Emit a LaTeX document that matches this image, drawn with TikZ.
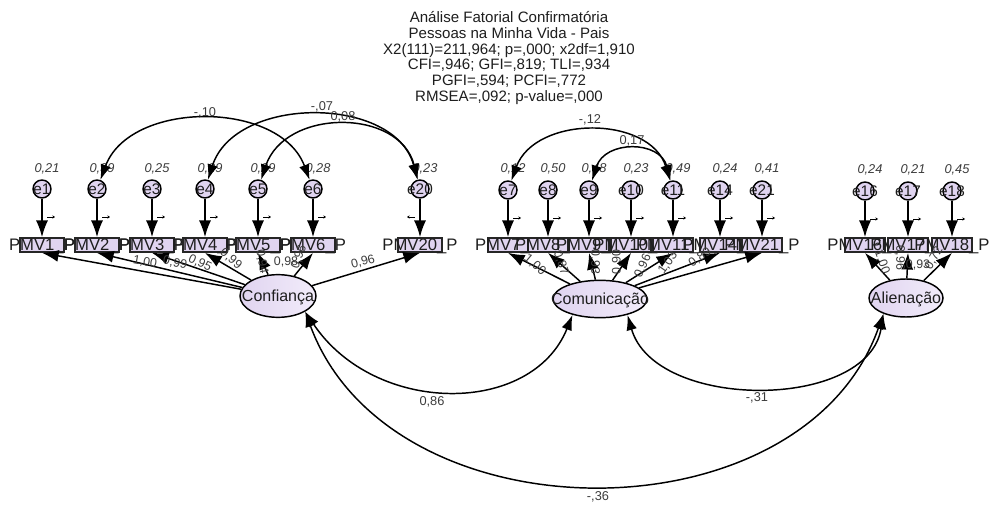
\documentclass[tikz,border=0pt]{standalone}
\usepackage{fontspec}
\setmainfont{Liberation Sans}
\usetikzlibrary{arrows.meta,shapes.geometric,calc}
\definecolor{lavA}{RGB}{224,212,240}
\definecolor{lavB}{RGB}{242,236,250}
\definecolor{txt}{RGB}{30,30,30}
\definecolor{lbl}{RGB}{60,60,60}
\newcommand\zw[1]{\makebox[0pt]{#1}}
\tikzset{
 errc/.style={circle, draw=black, line width=1.1pt, fill=lavA, minimum size=13.5pt, inner sep=0pt, font=\fontsize{11.5}{12}\selectfont, text=txt, text height=8.2pt, text depth=0pt},
 obs/.style={rectangle, draw=black!85, line width=1.3pt, fill=lavA, minimum height=10.5pt, inner sep=0pt, font=\fontsize{12.5}{13}\selectfont, text=txt, text height=8.9pt, text depth=0pt},
 lat/.style={ellipse, draw=black, line width=1.1pt, left color=lavA, right color=lavB, inner sep=0pt, font=\fontsize{12}{13}\selectfont, text=txt, text height=8.6pt, text depth=0pt},
 varl/.style={font=\fontsize{9.6}{10}\itshape, text=lbl, inner sep=0pt},
 wl/.style={font=\fontsize{9.3}{10}\selectfont, text=lbl, inner sep=0pt},
 cl/.style={font=\fontsize{9.6}{10}\selectfont, text=lbl, inner sep=0pt},
 arr/.style={line width=1.1pt, -{Latex[length=12.5pt,width=9pt]}},
 darr/.style={line width=1.1pt, {Latex[length=11.5pt,width=8pt]}-{Latex[length=11.5pt,width=8pt]}},
 tk/.style={line width=0.5pt, -{Stealth[length=2pt,width=2.5pt]}},
}
\begin{document}
\begin{tikzpicture}[x=0.75pt,y=-0.75pt]
\fill[white] (0,0) rectangle (990,506);
\path[use as bounding box] (0,0) rectangle (990,506);

% title
\node[font=\fontsize{11.3}{11.85}\selectfont, align=center, text=txt] (title) at (509,58)
 {Análise Fatorial Confirmatória\\Pessoas na Minha Vida - Pais\\X2(111)=211,964; p=,000; x2df=1,910\\CFI=,946; GFI=,819; TLI=,934\\PGFI=,594; PCFI=,772\\RMSEA=,092; p-value=,000};

% Confiança indicators
\foreach \i/\x/\va in {1/42/{0,21},2/97/{0,39},3/152/{0,25},4/205/{0,29},5/258/{0,29},6/313/{0,28},20/420/{0,23}} {
 \node[errc] (e\i) at (\x,189) {\zw{e\i}};
 \node[varl] (v\i) at (\x+5,169) {\va};
 \node[obs,minimum width=33pt] (b\i) at (\x,245) {\zw{PMV\i\_P}};
 \draw[arr] (e\i) -- (b\i);
}
% Comunicação indicators
\foreach \i/\x/\va in {7/508/{0,12},8/548/{0,50},9/589/{0,48},10/631/{0,23},11/673/{0,49},14/720/{0,24},21/762/{0,41}} {
 \node[errc] (e\i) at (\x,190) {\zw{e\i}};
 \node[varl] (v\i) at (\x+5,169) {\va};
 \node[obs,minimum width=30pt] (b\i) at (\x,245) {\zw{PMV\i\_P}};
 \draw[arr] (e\i) -- (b\i);
}
% Alienação indicators
\foreach \i/\x/\va in {16/865/{0,24},17/908/{0,21},18/952/{0,45}} {
 \node[errc] (e\i) at (\x,191) {\zw{e\i}};
 \node[varl] (v\i) at (\x+5,170) {\va};
 \node[obs,minimum width=30pt] (b\i) at (\x,245) {\zw{PMV\i\_P}};
 \draw[arr] (e\i) -- (b\i);
}
% small markers of fixed weights
\foreach \i in {1,2,3,4,5,6,7,8,9,10,11,14,21,16,17,18} {
 \draw[tk] ($(e\i)+(5,28)$) -- ++(8,0);
}
\draw[tk] ($(e20)+(-5,28)$) -- ++(-8,0);

% latent variables
\node[lat, minimum width=57pt, minimum height=32pt] (conf) at (278,296) {\zw{Confiança}};
\node[lat, minimum width=70.5pt, minimum height=28pt] (com) at (600,299) {\zw{Comunicação}};
\node[lat, minimum width=55.5pt, minimum height=28.5pt] (alie) at (906,298) {\zw{Alienação}};

% loadings
\foreach \i in {1,2,3,4,5,6,20} { \draw[arr] (conf) -- (b\i.south); }
\foreach \i in {7,8,9,10,11,14,21} { \draw[arr] (com) -- (b\i.south); }
\foreach \i in {16,17,18} { \draw[arr] (alie) -- (b\i.south); }

% loading labels
\node[wl, rotate=-10] (w1) at (145,262) {1,00};
\node[wl, rotate=-12] (w2) at (175,263) {0,99};
\node[wl, rotate=-25] (w3) at (200,263) {0,95};
\node[wl, rotate=-40] (w4) at (231,259) {0,99};
\node[wl, rotate=-80] (w5) at (262,262) {0,94};
\node[wl] (w6) at (286,262) {0,98};
\node[wl, rotate=70] (w6b) at (299,257) {0,96};
\node[wl, rotate=15] (w20) at (363,262) {0,96};

\node[wl, rotate=-40] (w7) at (535,265) {1,00};
\node[wl, rotate=-70] (w8) at (561,263) {0,87};
\node[wl, rotate=-90] (w9) at (595,262) {0,93};
\node[wl, rotate=90] (w10) at (617,262) {0,90};
\node[wl, rotate=65] (w11) at (643,266) {0,96};
\node[wl, rotate=55] (w14) at (668,263) {1,03};
\node[wl, rotate=35] (w21) at (700,258) {0,89};

\node[wl, rotate=-70] (w16) at (882,262) {1,00};
\node[wl, rotate=-90] (w17) at (900,258) {0,96};
\node[wl] (w17b) at (918,265) {0,93};
\node[wl, rotate=60] (w18) at (934,258) {0,72};

% error covariances
\draw[darr] (e2) .. controls (130,100) and (280,100) .. (e6);
\draw[darr] (e4) .. controls (235,95) and (395,95) .. (e20);
\draw[darr] (e5) .. controls (285,108) and (400,108) .. (e20);
\draw[darr] (e7) .. controls (535,115) and (650,115) .. (e11);
\draw[darr] (e9) .. controls (605,140) and (660,140) .. (e11);
\node[cl] (c1) at (205,113) {-,10};
\node[cl] (c2) at (322,107) {-,07};
\node[cl] (c3) at (343,117) {0,08};
\node[cl] (c4) at (590,120) {-,12};
\node[cl] (c5) at (632,141) {0,17};

% latent covariances
\draw[darr] (conf.-30) .. controls (375,416) and (532,416) .. (com.-150);
\draw[darr] (com.-30) .. controls (655,411) and (868,411) .. (alie.-145);
\draw[darr] (conf.-30) .. controls (390,542) and (803,542) .. (alie.-145);
\node[cl] (l1) at (432,402) {0,86};
\node[cl] (l2) at (757,398) {-,31};
\node[cl] (l3) at (598,497) {-,36};
\end{tikzpicture}
\end{document}
